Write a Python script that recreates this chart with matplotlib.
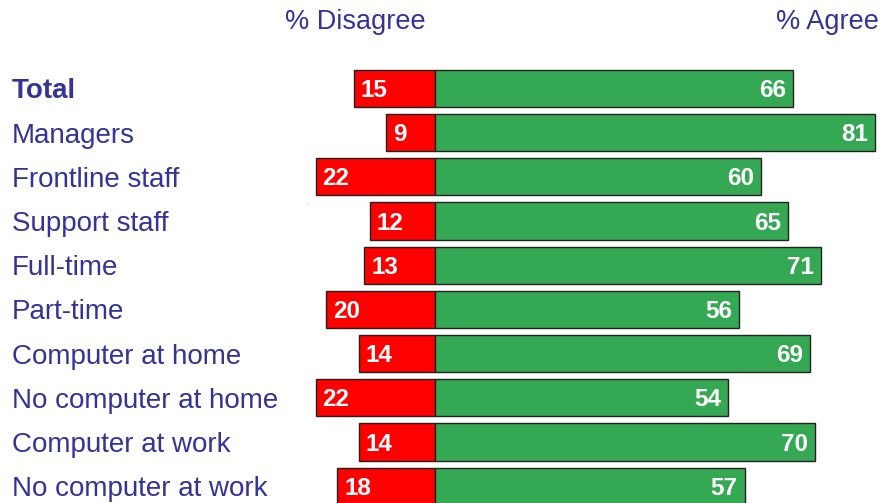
import matplotlib.pyplot as plt

plt.rcParams['font.family'] = ['Liberation Sans', 'DejaVu Sans']

groups = ['Total', 'Managers', 'Frontline staff', 'Support staff', 'Full-time',
          'Part-time', 'Computer at home', 'No computer at home',
          'Computer at work', 'No computer at work']
disagree = [15, 9, 22, 12, 13, 20, 14, 22, 14, 18]
agree = [66, 81, 60, 65, 71, 56, 69, 54, 70, 57]

label_col = '#333399'
red = '#FF0000'
green = '#35A853'

fig = plt.figure(figsize=(8.82, 5.03), dpi=100)
ax = fig.add_axes([0, 0, 1, 1])

ypos = list(range(len(groups)))
ax.barh(ypos, [-d for d in disagree], height=0.84, color=red,
        edgecolor='#222222', linewidth=1)
ax.barh(ypos, agree, height=0.84, color=green,
        edgecolor='#222222', linewidth=1)

for y, d, a, g in zip(ypos, disagree, agree, groups):
    ax.annotate(str(d), (-d, y), xytext=(5, -1.5), textcoords='offset points',
                ha='left', va='center', color='white', fontsize=17.5,
                fontweight='bold')
    ax.annotate(str(a), (a, y), xytext=(-5, -1.5), textcoords='offset points',
                ha='right', va='center', color='white', fontsize=17.5,
                fontweight='bold')
    ax.text(12 / 882, y, g, transform=ax.get_yaxis_transform(),
            ha='left', va='center_baseline', color=label_col, fontsize=20,
            fontweight='bold' if g == 'Total' else 'normal')

ax.text(355 / 882, 1 - 22 / 503, '% Disagree', transform=fig.transFigure,
        ha='center', va='center', color=label_col, fontsize=19.5)
ax.text(879 / 882, 1 - 22 / 503, '% Agree', transform=fig.transFigure,
        ha='right', va='center', color=label_col, fontsize=19.5)

ax.set_xlim(-435 / 5.43, (882 - 435) / 5.43)
ax.set_ylim(9.38, -2.0)
ax.axis('off')

fig.savefig('out.png', dpi=100)
